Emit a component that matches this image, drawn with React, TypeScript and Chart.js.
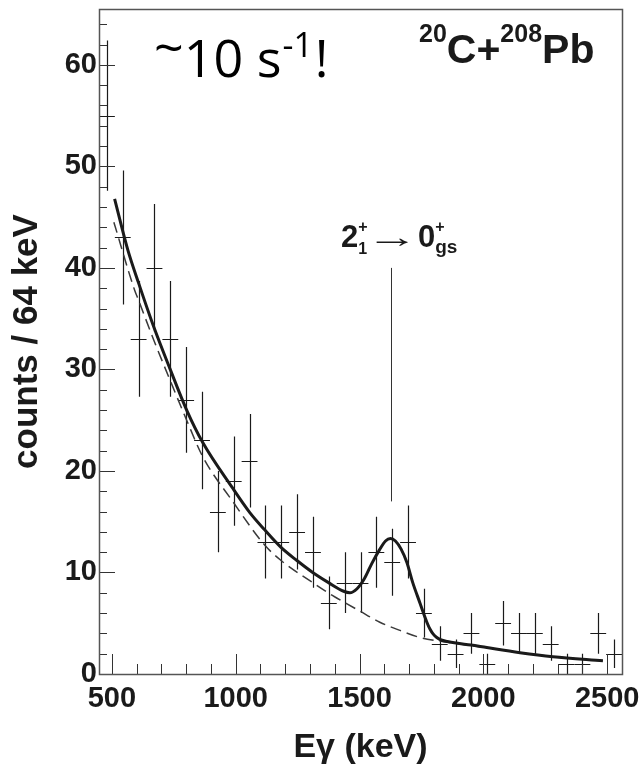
import { useEffect, useRef } from "react";
import { Chart, registerables } from "chart.js";

Chart.register(...registerables);

// Histogram bins (64 keV wide), counts and statistical errors
const binCenters = [480, 544, 608, 672, 736, 800, 864, 928, 992, 1056, 1120, 1184, 1248, 1312, 1376, 1440, 1504, 1568, 1632, 1696, 1760, 1824, 1888, 1952, 2016, 2080, 2144, 2208, 2272, 2336, 2400, 2464, 2528];
const counts = [55, 43, 33, 40, 33, 27, 23, 16, 19, 21, 13, 13, 14, 12, 7, 9, 9, 12, 11, 13, 6, 3, 2, 4, 1, 5, 4, 4, 3, 1, 1, 4, 2];
const errors = [7.4, 6.6, 5.7, 6.3, 5.7, 5.2, 4.8, 4.0, 4.4, 4.6, 3.6, 3.6, 3.7, 3.5, 2.6, 3.0, 3.0, 3.5, 3.3, 3.6, 2.4, 1.7, 1.4, 2.0, 1.0, 2.2, 2.0, 2.0, 1.7, 1.0, 1.0, 2.0, 1.4];
const binHalfWidth = 32;

// Total fit (solid)
const fitE = [511, 564, 608, 669, 734, 802, 867, 988, 1057, 1117, 1182, 1246, 1311, 1375, 1436, 1461, 1490, 1520, 1550, 1580, 1605, 1625, 1645, 1668, 1691, 1715, 1744, 1772, 1785, 1797, 1812, 1830, 1855, 1890, 1950, 2014, 2148, 2281, 2483];
const fitY = [46.8, 41.8, 38.5, 34.2, 30.1, 26.0, 22.8, 18.3, 15.9, 14.2, 12.5, 11.2, 10.0, 9.0, 8.15, 8.0, 8.4, 9.4, 10.9, 12.2, 13.1, 13.35, 13.1, 12.3, 11.0, 9.0, 7.0, 5.1, 4.4, 3.95, 3.6, 3.35, 3.2, 3.05, 2.85, 2.6, 2.1, 1.7, 1.3];

// Background (dashed)
const bgE = [508, 592, 608, 669, 734, 802, 867, 988, 1117, 1182, 1311, 1380, 1436, 1501, 1582, 1663, 1744, 1820, 1890, 1950, 2014, 2148, 2281, 2483];
const bgY = [44.5, 37.8, 36.8, 32.9, 29.0, 25.0, 21.4, 17.0, 12.7, 11.2, 9.0, 7.9, 7.1, 6.2, 5.1, 4.3, 3.6, 3.25, 3.0, 2.8, 2.6, 2.1, 1.7, 1.3];

const xTicks = [500, 1000, 1500, 2000, 2500];
const yTicks = [0, 10, 20, 30, 40, 50, 60];
const xMinorStep = 100;
const yMinorStep = 2;

const peakEnergy = 1627;
const peakLineFrom = 17;
const peakLineTo = 40;

const FONT = '"Liberation Sans", Arial, Helvetica, sans-serif';
const INK = "#1a1a1a";

const histPlugin = {
  id: "hist",
  beforeDatasetsDraw(chart: any) {
    const { ctx, chartArea, scales } = chart;
    const xs = scales.x;
    const ys = scales.y;
    ctx.save();
    ctx.beginPath();
    ctx.rect(chartArea.left, chartArea.top, chartArea.right - chartArea.left, chartArea.bottom - chartArea.top);
    ctx.clip();
    ctx.strokeStyle = INK;
    ctx.lineWidth = 1.2;
    for (let i = 0; i < binCenters.length; i++) {
      const c = binCenters[i];
      const v = counts[i];
      const e = errors[i];
      const px = Math.round(xs.getPixelForValue(c)) + 0.5;
      const py = Math.round(ys.getPixelForValue(v)) + 0.5;
      ctx.beginPath();
      ctx.moveTo(px, ys.getPixelForValue(Math.max(0, v - e)));
      ctx.lineTo(px, ys.getPixelForValue(v + e));
      ctx.moveTo(xs.getPixelForValue(c - binHalfWidth), py);
      ctx.lineTo(xs.getPixelForValue(c + binHalfWidth), py);
      ctx.stroke();
    }
    const ax = Math.round(xs.getPixelForValue(peakEnergy)) + 0.5;
    ctx.strokeStyle = "#333";
    ctx.lineWidth = 1;
    ctx.beginPath();
    ctx.moveTo(ax, ys.getPixelForValue(peakLineFrom));
    ctx.lineTo(ax, ys.getPixelForValue(peakLineTo));
    ctx.stroke();
    ctx.restore();
  },
};

const framePlugin = {
  id: "frame",
  afterDraw(chart: any) {
    const { ctx, chartArea, scales } = chart;
    const xs = scales.x;
    const ys = scales.y;
    const { left, right, top, bottom } = chartArea;
    ctx.save();
    ctx.strokeStyle = "#333";
    ctx.lineWidth = 1;
    ctx.beginPath();
    for (let v = 0; v <= ys.max; v += yMinorStep) {
      const major = yTicks.includes(v);
      const py = Math.round(ys.getPixelForValue(v)) + 0.5;
      ctx.moveTo(left, py);
      ctx.lineTo(left + (major ? 16 : 8), py);
    }
    for (let v = 500; v <= xs.max; v += xMinorStep) {
      const major = xTicks.includes(v);
      const px = Math.round(xs.getPixelForValue(v)) + 0.5;
      ctx.moveTo(px, bottom);
      ctx.lineTo(px, bottom - (major ? 20 : 10));
    }
    ctx.stroke();
    ctx.strokeStyle = "#555";
    ctx.lineWidth = 1.5;
    ctx.strokeRect(Math.round(left) + 0.5, Math.round(top) + 0.5, Math.round(right - left), Math.round(bottom - top));
    ctx.restore();
  },
};

type Run = { t: string; font: string; y: number; dx?: number; noAdvance?: boolean; at?: number; sx?: number };

function drawRuns(ctx: CanvasRenderingContext2D, x0: number, runs: Run[]) {
  let x = x0;
  for (const r of runs) {
    ctx.font = r.font;
    if (r.at !== undefined) x = r.at;
    x += r.dx || 0;
    const sx = r.sx || 1;
    if (sx !== 1) {
      ctx.save();
      ctx.translate(x, r.y);
      ctx.scale(sx, 1);
      ctx.fillText(r.t, 0, 0);
      ctx.restore();
    } else {
      ctx.fillText(r.t, x, r.y);
    }
    if (!r.noAdvance) x += ctx.measureText(r.t).width * sx;
  }
}

const textPlugin = {
  id: "texts",
  afterDraw(chart: any) {
    const ctx: CanvasRenderingContext2D = chart.ctx;
    ctx.save();
    ctx.textBaseline = "alphabetic";
    ctx.textAlign = "left";
    ctx.fillStyle = "#000";
    const big = '52px "Open Sans", "Noto Sans", sans-serif';
    const sup = '34px "Open Sans", "Noto Sans", sans-serif';
    drawRuns(ctx, 154, [
      { t: "~", font: big, y: 66 },
      { t: "10 s", font: big, y: 77 },
      { t: "-1", font: sup, y: 57, dx: 1 },
      { t: "!", font: big, y: 77, dx: 2 },
    ]);
    ctx.fillStyle = INK;
    drawRuns(ctx, 419, [
      { t: "20", font: `bold 25px ${FONT}`, y: 42 },
      { t: "C+", font: `bold 41px ${FONT}`, y: 63 },
      { t: "208", font: `bold 25px ${FONT}`, y: 42 },
      { t: "Pb", font: `bold 41px ${FONT}`, y: 63 },
    ]);
    drawRuns(ctx, 341, [
      { t: "2", font: `bold 31px ${FONT}`, y: 247 },
      { t: "+", font: `bold 16px ${FONT}`, y: 232, noAdvance: true },
      { t: "1", font: `bold 16px ${FONT}`, y: 254 },
      { t: "\u2192", font: `30px ${FONT}`, y: 247, at: 366, sx: 1.75 },
      { t: "0", font: `bold 31px ${FONT}`, y: 247, at: 418 },
      { t: "+", font: `bold 16px ${FONT}`, y: 232, noAdvance: true },
      { t: "gs", font: `bold 19px ${FONT}`, y: 253 },
    ]);
    ctx.restore();
  },
};

export default function App() {
  const ref = useRef<HTMLCanvasElement>(null);
  useEffect(() => {
    const canvas = ref.current;
    if (!canvas) return;
    const chart = new Chart(canvas, {
      type: "line",
      data: {
        datasets: [
          {
            label: "fit",
            data: fitE.map((x, i) => ({ x, y: fitY[i] })),
            borderColor: INK,
            borderWidth: 3,
            pointRadius: 0,
            cubicInterpolationMode: "monotone",
            fill: false,
            order: 0,
          },
          {
            label: "background",
            data: bgE.map((x, i) => ({ x, y: bgY[i] })),
            borderColor: "#3a3a3a",
            borderWidth: 1.5,
            borderDash: [11, 6],
            pointRadius: 0,
            cubicInterpolationMode: "monotone",
            fill: false,
            order: 1,
          },
          {
            label: "data",
            type: "scatter",
            data: binCenters.map((x, i) => ({ x, y: counts[i] })),
            pointRadius: 0,
            showLine: false,
            order: 2,
          } as any,
        ],
      },
      options: {
        responsive: false,
        animation: false,
        devicePixelRatio: 1,
        layout: { padding: { top: 9, right: 21, left: 0, bottom: 0 } },
        plugins: { legend: { display: false }, tooltip: { enabled: false } },
        scales: {
          x: {
            type: "linear",
            min: 448,
            max: 2560,
            afterBuildTicks: (s: any) => {
              s.ticks = xTicks.map((v) => ({ value: v }));
            },
            afterFit: (s: any) => {
              s.height = 96;
              s.paddingLeft = 0;
              s.paddingRight = 0;
            },
            grid: { display: false, drawTicks: false },
            border: { display: false },
            ticks: {
              padding: 8,
              autoSkip: false,
              maxRotation: 0,
              color: INK,
              font: { family: FONT, size: 29, weight: "bold" },
              callback: (v: any) => String(v),
            },
            title: {
              display: true,
              text: "E\u03b3 (keV)",
              color: INK,
              font: { family: FONT, size: 34, weight: "bold" },
              padding: { top: 0, bottom: 2 },
            },
          },
          y: {
            type: "linear",
            min: 0,
            max: 65.5,
            afterBuildTicks: (s: any) => {
              s.ticks = yTicks.map((v) => ({ value: v }));
            },
            afterFit: (s: any) => {
              s.width = 99;
              s.paddingTop = 0;
              s.paddingBottom = 0;
            },
            grid: { display: false, drawTicks: false },
            border: { display: false },
            ticks: {
              padding: 2,
              color: INK,
              font: { family: FONT, size: 29, weight: "bold" },
              callback: (v: any) => String(v),
            },
            title: {
              display: true,
              text: "counts / 64 keV",
              color: INK,
              font: { family: FONT, size: 35, weight: "bold" },
              padding: { top: 6, bottom: 0 },
            },
          },
        },
      } as any,
      plugins: [histPlugin, framePlugin, textPlugin],
    });
    return () => chart.destroy();
  }, []);
  return (
    <div style={{ position: "fixed", left: 0, top: 0, width: 643, height: 770, background: "#fff" }}>
      <canvas ref={ref} width={643} height={770} style={{ display: "block" }} />
    </div>
  );
}
